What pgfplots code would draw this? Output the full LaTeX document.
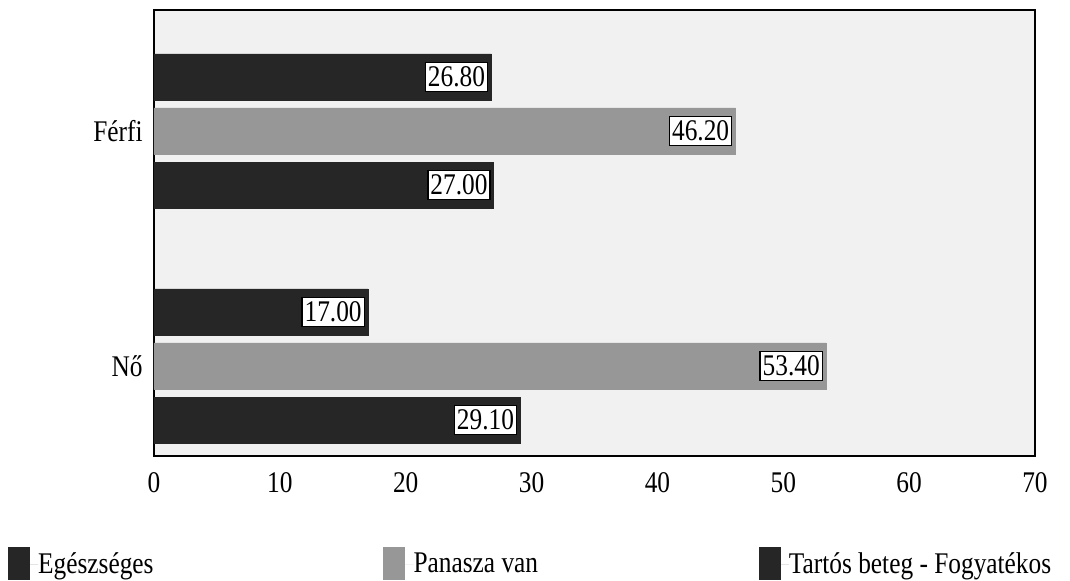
\documentclass[border=0pt]{standalone}
\usepackage{fontspec}
\setmainfont{Liberation Serif}[FakeStretch=0.845]
\usepackage{pgfplots}
\pgfplotsset{compat=1.18}
\definecolor{darkbar}{HTML}{262626}
\definecolor{graybar}{HTML}{979797}
\definecolor{bgfill}{HTML}{F1F1F1}
\begin{document}
\fontsize{15pt}{17pt}\selectfont
\begin{tikzpicture}
\useasboundingbox (-77pt,-62.5pt) rectangle (458pt,228pt);
\begin{axis}[
  at={(0,0)}, anchor=south west,
  scale only axis,
  width=440.5pt, height=223pt,
  xbar, bar width=0.196,
  xmin=0, xmax=70,
  ymin=-0.383, ymax=1.515,
  xtick={0,10,...,70},
  ytick={0,1},
  yticklabels={Nő,Férfi},
  major tick length=0pt,
  axis line style={line width=0.8pt},
  axis background/.style={fill=bgfill},
  tick label style={font=\fontsize{15pt}{17pt}\selectfont},
  /pgf/number format/assume math mode=true,
  xticklabel style={yshift=-3pt},
  yticklabel style={xshift=-0.5pt},
  nodes near coords,
  nodes near coords style={anchor=east, xshift=-1.5pt, draw=black, fill=white,
    line width=0.7pt, inner xsep=1.3pt, inner ysep=2.2pt, font=\fontsize{15pt}{17pt}\selectfont,
    /pgf/number format/fixed, /pgf/number format/fixed zerofill,
    /pgf/number format/precision=2, /pgf/number format/assume math mode=true},
  legend columns=3,
  legend style={draw=none, fill=none, at={(-0.166,-0.205)}, anchor=north west,
    inner sep=0pt, outer sep=0pt, column sep=0pt,
    nodes={inner sep=0pt, outer sep=0pt},
    font=\fontsize{15pt}{17pt}\selectfont, cells={anchor=west}},
  legend image code/.code={
    \fill[#1] (0pt,-7.5pt) rectangle (10.5pt,8.5pt);
    \path[draw=none] (0pt,0pt) -- (15pt,0pt);
  },
]
\addplot[fill=darkbar, draw=darkbar, bar shift=0.23] coordinates {(26.8,1) (17.0,0)};
\addlegendentry{\makebox[172.5pt][l]{Egészséges}}
\addplot[fill=graybar, draw=graybar, bar shift=0] coordinates {(46.2,1) (53.4,0)};
\addlegendentry{\makebox[172.5pt][l]{Panasza van}}
\addplot[fill=darkbar, draw=darkbar, bar shift=-0.23] coordinates {(27.0,1) (29.1,0)};
\addlegendentry{Tartós beteg - Fogyatékos}
\end{axis}
\end{tikzpicture}
\end{document}
